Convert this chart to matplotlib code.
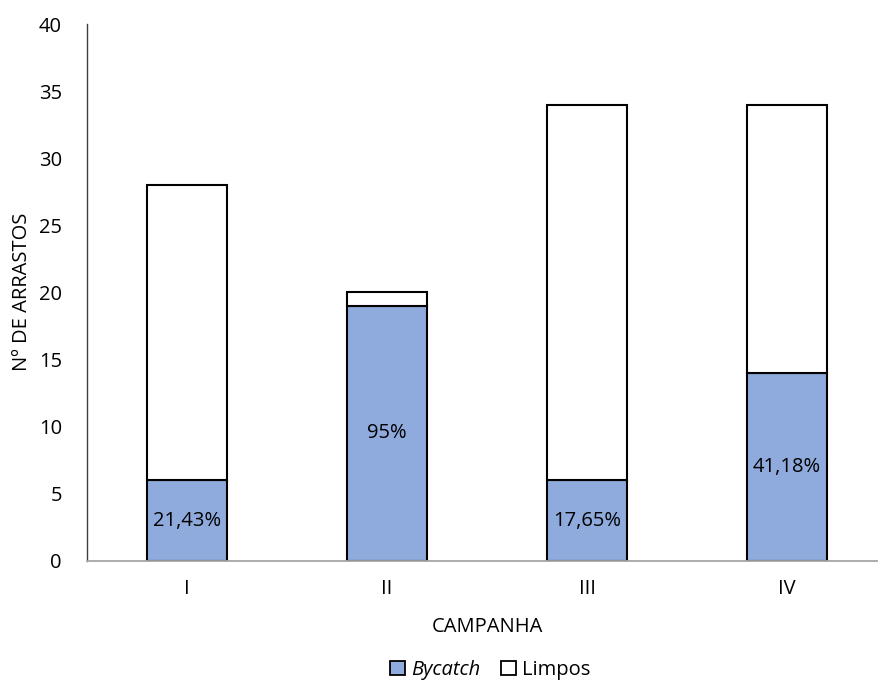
import matplotlib
matplotlib.use("Agg")
import matplotlib.pyplot as plt
from matplotlib.patches import Patch

campanhas = ["I", "II", "III", "IV"]
bycatch = [6, 19, 6, 14]
limpos = [22, 1, 28, 20]
pct_labels = ["21,43%", "95%", "17,65%", "41,18%"]

plt.rcParams["font.family"] = ["Open Sans", "DejaVu Sans"]
FS = 14.5

W, H = 879, 682
fig = plt.figure(figsize=(W / 100, H / 100), dpi=100)
ax = fig.add_axes([87 / W, (H - 561) / H, 800 / W, (561 - 24) / H])

x = list(range(len(campanhas)))
bw = 0.4
ax.bar(x, bycatch, width=bw, color="#8FAADC", edgecolor="black", linewidth=1.5, zorder=3)
ax.bar(x, limpos, width=bw, bottom=bycatch, color="white", edgecolor="black", linewidth=1.5, zorder=3)

for xi, b, lab in zip(x, bycatch, pct_labels):
    ax.text(xi, b / 2, lab, ha="center", va="center", fontsize=FS, color="black", zorder=4)

ax.set_xlim(-0.5, 3.5)
ax.set_ylim(0, 40)
ax.set_yticks(range(0, 41, 5))
ax.set_xticks(x)
ax.set_xticklabels(campanhas)
ax.tick_params(axis="both", length=0, labelsize=FS, colors="black")
ax.tick_params(axis="x", pad=13)
ax.tick_params(axis="y", pad=18)

for s in ("top", "right"):
    ax.spines[s].set_visible(False)
ax.spines["left"].set_color("#404040")
ax.spines["left"].set_linewidth(1.0)
ax.spines["bottom"].set_color("#A6A6A6")
ax.spines["bottom"].set_linewidth(1.3)
ax.spines["bottom"].set_zorder(5)

fig.text(22 / W, 1 - 292 / H, "Nº DE ARRASTOS", rotation=90, ha="center", va="center", fontsize=FS)
fig.text(487 / W, 1 - 627 / H, "CAMPANHA", ha="center", va="center", fontsize=FS)

handles = [
    Patch(facecolor="#8FAADC", edgecolor="black", linewidth=1.3),
    Patch(facecolor="white", edgecolor="black", linewidth=1.3),
]
leg = fig.legend(handles, ["Bycatch", "Limpos"], loc="center", bbox_to_anchor=(490 / W, 1 - 670 / H),
                 ncol=2, frameon=False, fontsize=FS, handlelength=0.75, handleheight=0.75,
                 handletextpad=0.3, columnspacing=1.0)
leg.get_texts()[0].set_fontstyle("italic")

fig.savefig("out.png", dpi=100)
